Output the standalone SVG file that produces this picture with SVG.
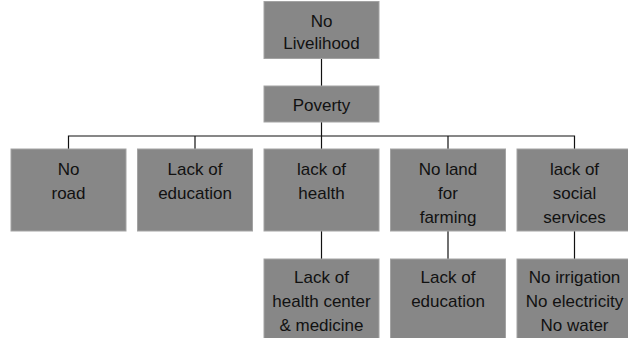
<svg xmlns="http://www.w3.org/2000/svg" width="628" height="338" viewBox="0 0 628 338">
<style>
.box{fill:#878787;stroke:#a3a3a3;stroke-width:1}
.t{font-family:"Liberation Sans",Arial,sans-serif;font-size:17px;fill:#111;text-anchor:middle}
.c{stroke:#111;stroke-width:1.2;fill:none}
</style>
<rect width="628" height="338" fill="#fff"/>
<g id="connectors">
<line class="c" x1="321.5" y1="59" x2="321.5" y2="86"/>
<line class="c" x1="321.5" y1="122" x2="321.5" y2="136"/>
<polyline class="c" points="68.5,149 68.5,136 574.5,136 574.5,149"/>
<line class="c" x1="195" y1="136" x2="195" y2="149"/>
<line class="c" x1="321.5" y1="136" x2="321.5" y2="149"/>
<line class="c" x1="448" y1="136" x2="448" y2="149"/>
<line class="c" x1="321.5" y1="231" x2="321.5" y2="259"/>
<line class="c" x1="448" y1="231" x2="448" y2="259"/>
<line class="c" x1="574.5" y1="231" x2="574.5" y2="259"/>
</g>
<g id="n-livelihood"><rect class="box" x="264" y="1.5" width="115" height="57"/><text class="t" x="321.5" y="27">No</text><text class="t" x="321.5" y="49">Livelihood</text></g>
<g id="n-poverty"><rect class="box" x="264" y="86" width="115" height="36"/><text class="t" x="321.5" y="111">Poverty</text></g>
<g id="n-road"><rect class="box" x="11" y="149" width="115" height="82"/><text class="t" x="68.5" y="175">No</text><text class="t" x="68.5" y="199">road</text></g>
<g id="n-edu1"><rect class="box" x="137.5" y="149" width="115" height="82"/><text class="t" x="195" y="175">Lack of</text><text class="t" x="195" y="199">education</text></g>
<g id="n-health"><rect class="box" x="264" y="149" width="115" height="82"/><text class="t" x="321.5" y="175">lack of</text><text class="t" x="321.5" y="199">health</text></g>
<g id="n-land"><rect class="box" x="390.5" y="149" width="115" height="82"/><text class="t" x="448" y="175">No land</text><text class="t" x="448" y="199">for</text><text class="t" x="448" y="223">farming</text></g>
<g id="n-social"><rect class="box" x="517" y="149" width="115" height="82"/><text class="t" x="574.5" y="175">lack of</text><text class="t" x="574.5" y="199">social</text><text class="t" x="574.5" y="223">services</text></g>
<g id="n-center"><rect class="box" x="264" y="259" width="115" height="82"/><text class="t" x="321.5" y="283">Lack of</text><text class="t" x="321.5" y="307">health center</text><text class="t" x="321.5" y="331">&amp; medicine</text></g>
<g id="n-edu2"><rect class="box" x="390.5" y="259" width="115" height="82"/><text class="t" x="448" y="283">Lack of</text><text class="t" x="448" y="307">education</text></g>
<g id="n-utilities"><rect class="box" x="517" y="259" width="115" height="82"/><text class="t" x="574.5" y="283">No irrigation</text><text class="t" x="574.5" y="307">No electricity</text><text class="t" x="574.5" y="331">No water</text></g>
</svg>
